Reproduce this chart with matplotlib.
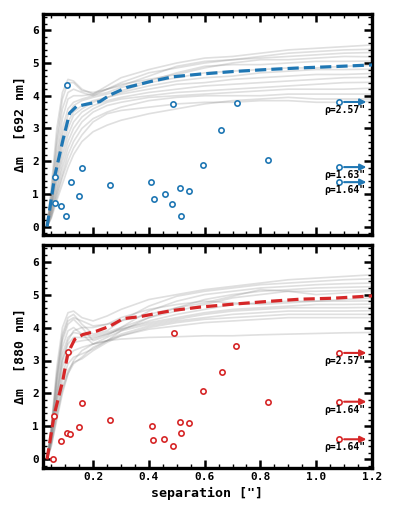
import numpy as np
import matplotlib
matplotlib.use('Agg')
import matplotlib.pyplot as plt
from matplotlib.ticker import MultipleLocator

plt.rcParams['font.family'] = 'DejaVu Sans Mono'
plt.rcParams['font.weight'] = 'bold'

# ------------------------------
# Data
# ------------------------------
# sample separations used for the gray contrast curves
sep_grid = [0.035, 0.05, 0.07, 0.09, 0.11, 0.13, 0.16, 0.2, 0.25, 0.3,
            0.4, 0.5, 0.6, 0.7, 0.8, 0.9, 1.0, 1.1, 1.2]

curves_692 = [
    [0, 1.2, 3.0, 4.1, 4.5, 4.45, 4.2, 4.05, 4.3, 4.55, 4.8, 5.0, 5.15, 5.2, 5.3, 5.4, 5.45, 5.5, 5.55],
    [0, 1.0, 2.7, 3.9, 4.4, 4.4, 4.15, 4.1, 4.2, 4.3, 4.6, 4.9, 5.05, 5.1, 5.2, 5.3, 5.35, 5.4, 5.42],
    [0, 0.9, 2.5, 3.6, 4.1, 4.2, 4.1, 4.0, 4.2, 4.4, 4.7, 4.85, 5.0, 5.1, 5.15, 5.2, 5.25, 5.3, 5.32],
    [0, 0.8, 2.2, 3.3, 3.9, 4.0, 4.0, 4.05, 4.2, 4.35, 4.5, 4.65, 4.85, 5.0, 5.1, 5.1, 5.15, 5.2, 5.19],
    [0, 0.7, 2.0, 3.0, 3.6, 3.8, 3.9, 4.0, 4.1, 4.25, 4.45, 4.7, 4.9, 4.95, 4.95, 5.0, 5.05, 5.05, 5.06],
    [0, 0.6, 1.8, 2.8, 3.4, 3.7, 3.85, 3.95, 4.05, 4.15, 4.4, 4.55, 4.7, 4.75, 4.8, 4.85, 4.85, 4.9, 4.93],
    [0, 0.6, 1.7, 2.6, 3.2, 3.5, 3.7, 3.85, 3.95, 4.1, 4.3, 4.45, 4.55, 4.6, 4.7, 4.75, 4.8, 4.8, 4.81],
    [0, 0.5, 1.5, 2.4, 3.0, 3.4, 3.6, 3.8, 3.95, 4.05, 4.2, 4.35, 4.4, 4.5, 4.55, 4.6, 4.65, 4.65, 4.68],
    [0, 0.5, 1.4, 2.2, 2.8, 3.2, 3.5, 3.7, 3.85, 3.95, 4.1, 4.2, 4.3, 4.35, 4.4, 4.45, 4.5, 4.55, 4.56],
    [0, 0.4, 1.2, 2.0, 2.6, 3.0, 3.35, 3.6, 3.8, 3.9, 4.0, 4.1, 4.15, 4.2, 4.25, 4.3, 4.35, 4.4, 4.41],
    [0, 0.4, 1.1, 1.8, 2.4, 2.8, 3.2, 3.5, 3.7, 3.8, 3.95, 4.0, 4.05, 4.1, 4.15, 4.2, 4.2, 4.2, 4.23],
    [0, 0.3, 1.0, 1.6, 2.2, 2.6, 3.0, 3.3, 3.5, 3.65, 3.85, 3.95, 4.0, 4.0, 4.0, 4.05, 4.05, 4.05, 4.05],
    [0, 0.3, 0.9, 1.5, 2.0, 2.4, 2.8, 3.2, 3.45, 3.55, 3.65, 3.75, 3.8, 3.8, 3.85, 3.85, 3.8, 3.8, 3.83],
    [0, 0.25, 0.8, 1.3, 1.8, 2.2, 2.6, 2.9, 3.1, 3.25, 3.45, 3.6, 3.75, 3.85, 3.9, 3.95, 3.9, 3.9, 3.9],
]

curves_880 = [
    [0, 1.0, 2.8, 4.0, 4.45, 4.5, 4.3, 4.2, 4.35, 4.55, 4.85, 5.0, 5.15, 5.25, 5.35, 5.45, 5.5, 5.55, 5.6],
    [0, 0.9, 2.6, 3.8, 4.3, 4.4, 4.1, 3.8, 3.9, 4.2, 4.65, 4.95, 5.1, 5.2, 5.3, 5.35, 5.4, 5.45, 5.48],
    [0, 0.8, 2.4, 3.6, 4.1, 4.25, 4.0, 3.6, 3.75, 4.0, 4.5, 4.8, 5.0, 5.1, 5.2, 5.25, 5.3, 5.33, 5.35],
    [0, 0.8, 2.3, 3.4, 3.9, 4.0, 3.8, 3.5, 3.6, 3.9, 4.3, 4.6, 4.85, 5.0, 5.1, 5.15, 5.2, 5.22, 5.24],
    [0, 0.7, 2.1, 3.2, 3.7, 3.85, 3.8, 3.75, 3.85, 4.0, 4.3, 4.5, 4.7, 4.9, 5.0, 5.1, 5.1, 5.12, 5.14],
    [0, 0.7, 2.0, 3.0, 3.5, 3.7, 3.7, 3.7, 3.8, 3.95, 4.2, 4.4, 4.55, 4.7, 4.75, 4.8, 4.8, 4.8, 4.81],
    [0, 0.6, 1.8, 2.8, 3.3, 3.55, 3.6, 3.65, 3.8, 3.95, 4.15, 4.3, 4.45, 4.55, 4.6, 4.65, 4.7, 4.7, 4.71],
    [0, 0.6, 1.7, 2.6, 3.1, 3.3, 3.4, 3.5, 3.7, 3.9, 4.1, 4.25, 4.4, 4.5, 4.55, 4.6, 4.6, 4.6, 4.61],
    [0, 0.5, 1.5, 2.4, 2.9, 3.1, 3.2, 3.35, 3.6, 3.8, 4.05, 4.2, 4.3, 4.4, 4.45, 4.5, 4.5, 4.5, 4.51],
    [0, 0.5, 1.4, 2.2, 2.7, 2.95, 3.05, 3.3, 3.55, 3.75, 4.0, 4.15, 4.25, 4.3, 4.35, 4.4, 4.4, 4.4, 4.40],
    [0, 0.4, 1.3, 2.1, 2.6, 2.9, 3.1, 3.4, 3.6, 3.75, 3.95, 4.05, 4.15, 4.2, 4.25, 4.3, 4.3, 4.3, 4.30],
    [0, 0.4, 1.2, 2.0, 2.6, 3.0, 3.3, 3.5, 3.6, 3.65, 3.7, 3.72, 3.75, 3.75, 3.78, 3.8, 3.82, 3.84, 3.85],
    [0, 0.9, 2.5, 3.7, 4.2, 4.3, 4.2, 4.05, 4.1, 4.3, 4.55, 4.7, 4.8, 4.75, 4.7, 4.75, 4.8, 4.85, 4.9],
    [0, 0.6, 1.9, 3.0, 3.6, 3.9, 4.0, 4.0, 4.1, 4.2, 4.4, 4.6, 4.75, 4.95, 5.15, 5.1, 5.0, 5.05, 5.1],
]

# dashed mean curves
mean_sep_692 = [0.035, 0.0625, 0.092, 0.116, 0.14, 0.176, 0.224, 0.26, 0.32, 0.404,
                0.487, 0.583, 0.703, 0.823, 0.942, 1.062, 1.2]
mean_dm_692 = [0.0, 1.54, 2.65, 3.47, 3.67, 3.74, 3.82, 4.02, 4.25, 4.43,
               4.58, 4.66, 4.74, 4.80, 4.85, 4.89, 4.94]

mean_sep_880 = [0.035, 0.06, 0.092, 0.11, 0.134, 0.164, 0.212, 0.26, 0.308, 0.368,
                0.428, 0.487, 0.583, 0.703, 0.823, 0.942, 1.062, 1.2]
mean_dm_880 = [0.0, 1.33, 2.42, 3.23, 3.64, 3.79, 3.89, 4.04, 4.27, 4.33,
               4.43, 4.52, 4.62, 4.71, 4.79, 4.86, 4.89, 4.96]

# detected companions
sep_692 = [0.0625, 0.0625, 0.0865, 0.104, 0.108, 0.12, 0.15, 0.159, 0.261, 0.407, 0.418,
           0.459, 0.484, 0.487, 0.510, 0.515, 0.543, 0.593, 0.660, 0.716, 0.828]
dm_692 = [1.52, 0.71, 0.62, 0.32, 4.33, 1.37, 0.93, 1.79, 1.26, 1.37, 0.83,
          0.99, 0.69, 3.76, 1.19, 0.33, 1.10, 1.88, 2.96, 3.77, 2.05]

sep_880 = [0.056, 0.06, 0.0865, 0.108, 0.119, 0.110, 0.150, 0.162, 0.261, 0.412, 0.415,
           0.456, 0.487, 0.491, 0.510, 0.516, 0.543, 0.593, 0.662, 0.712, 0.827]
dm_880 = [0.01, 1.33, 0.55, 0.79, 0.77, 3.27, 0.98, 1.72, 1.20, 1.01, 0.59,
          0.61, 0.40, 3.82, 1.13, 0.79, 1.10, 2.07, 2.64, 3.45, 1.75]

# companions outside the plotted range (arrows)
far_dm_692 = [3.81, 1.82, 1.36]
far_rho_692 = ['2.57', '1.63', '1.64']
far_dm_880 = [3.23, 1.75, 0.61]
far_rho_880 = ['2.57', '1.64', '1.64']

# ------------------------------
# Figure
# ------------------------------
fig = plt.figure(figsize=(3.97, 5.15), dpi=100)
ax1 = fig.add_axes([0.108, 0.544, 0.829, 0.429])
ax2 = fig.add_axes([0.108, 0.092, 0.829, 0.432])

panels = [
    (ax1, curves_692, mean_sep_692, mean_dm_692, sep_692, dm_692, far_dm_692, far_rho_692,
     '#1f77b4', 'Δm  [692 nm]'),
    (ax2, curves_880, mean_sep_880, mean_dm_880, sep_880, dm_880, far_dm_880, far_rho_880,
     '#d62728', 'Δm  [880 nm]'),
]

for ax, curves, msep, mdm, sep, dm, far_dm, far_rho, col, ylab in panels:
    for c in curves:
        ax.plot(sep_grid, c, color='gray', alpha=0.25, lw=1.2, zorder=1)
    ax.plot(msep, mdm, color=col, lw=2.3, ls='--', dashes=(3.5, 1.6), zorder=3)
    ax.plot(sep, dm, 'o', ms=3.8, mfc='white', mec=col, mew=1.2, zorder=4)

    for y, rho in zip(far_dm, far_rho):
        ax.plot(1.082, y, 'o', ms=3.8, mfc='white', mec=col, mew=1.2, zorder=4)
        ax.annotate('', xy=(1.18, y), xytext=(1.10, y),
                    arrowprops=dict(arrowstyle='-|>', color=col, lw=1.5,
                                    mutation_scale=9, shrinkA=0, shrinkB=0))
        ax.text(1.178, y - 0.24, 'ρ=' + rho + '"', fontsize=7, fontweight='bold',
                ha='right', va='center', zorder=5)

    ax.set_xlim(0.02, 1.2)
    ax.set_ylim(-0.25, 6.5)
    ax.set_ylabel(ylab, fontsize=9.5, fontweight='bold')
    ax.xaxis.set_major_locator(MultipleLocator(0.2))
    ax.xaxis.set_minor_locator(MultipleLocator(0.05))
    ax.yaxis.set_major_locator(MultipleLocator(1))
    ax.yaxis.set_minor_locator(MultipleLocator(0.2))
    ax.tick_params(which='both', direction='in', top=True, right=True)
    ax.tick_params(which='major', length=6, width=1.8, labelsize=8, pad=3)
    ax.tick_params(which='minor', length=3, width=1.0)
    for s in ax.spines.values():
        s.set_linewidth(2.4)
    for lab in ax.get_xticklabels() + ax.get_yticklabels():
        lab.set_fontweight('bold')

ax1.tick_params(labelbottom=False)
ax2.set_xlabel('separation ["]', fontsize=9.5, fontweight='bold')

fig.savefig('out.png', dpi=100)
